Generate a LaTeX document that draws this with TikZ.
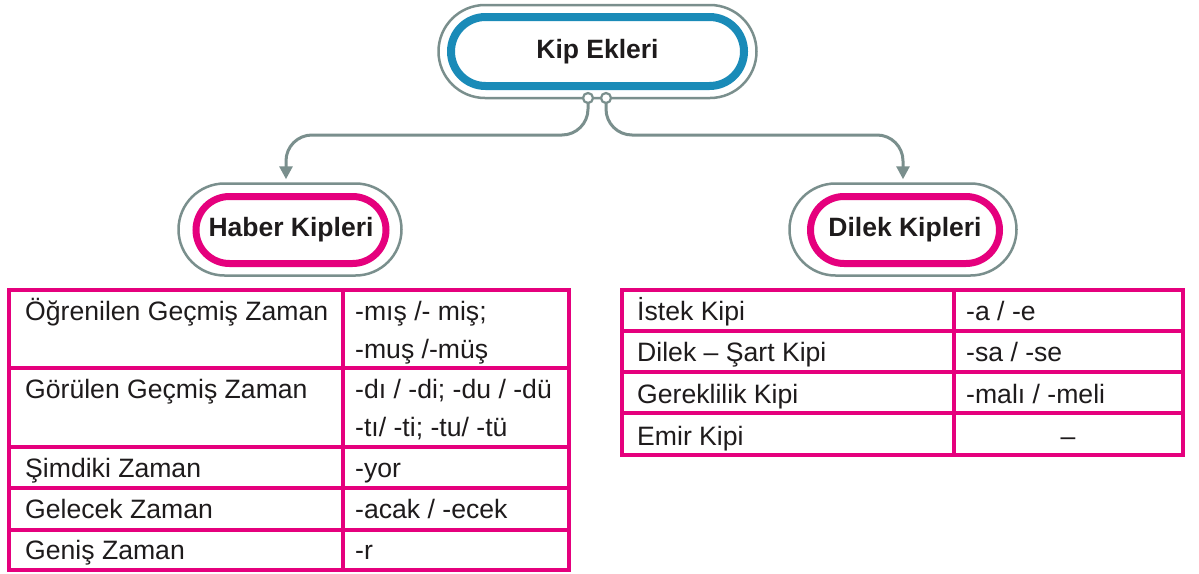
\documentclass[tikz,border=0pt]{standalone}
\usepackage{fontspec}
\setmainfont{Liberation Sans}
\usetikzlibrary{shapes.misc,arrows.meta}
\definecolor{kgray}{RGB}{122,143,141}
\definecolor{kpink}{RGB}{229,0,125}
\definecolor{kblue}{RGB}{26,139,184}
\definecolor{ktext}{RGB}{30,27,28}
\begin{document}
\begin{tikzpicture}[x=1pt,y=-1pt,
  outerpill/.style={rounded rectangle, draw=kgray, line width=2.5pt, fill=white, inner sep=0pt},
  innerpill/.style={rounded rectangle, fill=white, inner sep=0pt, font=\fontsize{26.5}{30}\selectfont\bfseries, text=ktext},
  tab/.style={draw=kpink, line width=3.2pt},
  celltext/.style={anchor=base west, inner sep=0pt, font=\fontsize{26.6}{30}\selectfont, text=ktext},
  conn/.style={draw=kgray, line width=3pt, rounded corners=26pt, -{Triangle[width=13pt,length=13pt]}},
  joint/.style={circle, draw=kgray, fill=white, line width=2.2pt, minimum size=10pt, inner sep=0pt}]
\useasboundingbox[fill=white] (0,0) rectangle (1199,573);

% top node
\node[outerpill, minimum width=318pt, minimum height=93pt] (topo) at (597.5,51.5) {};
\node[innerpill, draw=kblue, line width=8pt, minimum width=293pt, minimum height=69pt] (top) at (597.5,51.5) {Kip Ekleri};

% second level
\node[outerpill, minimum width=223pt, minimum height=92pt] (haber) at (290,229.5) {};
\node[innerpill, draw=kpink, line width=7pt, minimum width=190pt, minimum height=67pt] (haberin) at (291,230) {Haber Kipleri};
\node[outerpill, minimum width=227pt, minimum height=92pt] (dilek) at (903,229.5) {};
\node[innerpill, draw=kpink, line width=7pt, minimum width=189pt, minimum height=67pt] (dilekin) at (905,230) {Dilek Kipleri};

% connectors
\coordinate (hl) at (0,135);
\coordinate (a1) at ([xshift=-4pt,yshift=3pt]haber.north);
\coordinate (a2) at ([yshift=3pt]dilek.north);
\draw[conn] (588,103) -- (588,103 |- hl) -- (a1 |- hl) -- (a1);
\draw[conn] (606,103) -- (606,103 |- hl) -- (a2 |- hl) -- (a2);
\node[joint] (j1) at (588,98) {};
\node[joint] (j2) at (606,98) {};

% left table
\draw[tab] (9,290) rectangle (569,570);
\draw[tab] (343,290) -- (343,570);
\foreach \yy in {368,447,488,530} \draw[tab] (9,\yy) -- (569,\yy);
\node[celltext] (l1a) at (25,320) {Öğrenilen Geçmiş Zaman};
\node[celltext] (l1b) at (355,320) {-mış /- miş;};
\node[celltext] (l1c) at (355,358) {-muş /-müş};
\node[celltext] (l2a) at (25,398) {Görülen Geçmiş Zaman};
\node[celltext] (l2b) at (355,398) {-dı / -di; -du / -dü};
\node[celltext] (l2c) at (355,436) {-tı/ -ti; -tu/ -tü};
\node[celltext] (l3a) at (25,477) {Şimdiki Zaman};
\node[celltext] (l3b) at (355,477) {-yor};
\node[celltext] (l4a) at (25,518) {Gelecek Zaman};
\node[celltext] (l4b) at (355,518) {-acak / -ecek};
\node[celltext] (l5a) at (25,559) {Geniş Zaman};
\node[celltext] (l5b) at (355,559) {-r};

% right table
\draw[tab] (622,290) rectangle (1183,455);
\draw[tab] (954,290) -- (954,455);
\foreach \yy in {331,372,413} \draw[tab] (622,\yy) -- (1183,\yy);
\node[celltext] (r1a) at (637,320) {İstek Kipi};
\node[celltext] (r1b) at (966,320) {-a / -e};
\node[celltext] (r2a) at (637,361) {Dilek – Şart Kipi};
\node[celltext] (r2b) at (966,361) {-sa / -se};
\node[celltext] (r3a) at (637,403) {Gereklilik Kipi};
\node[celltext] (r3b) at (966,403) {-malı / -meli};
\node[celltext] (r4a) at (637,445) {Emir Kipi};
\node[celltext, anchor=base] (r4b) at (1068,445) {–};
\end{tikzpicture}
\end{document}
